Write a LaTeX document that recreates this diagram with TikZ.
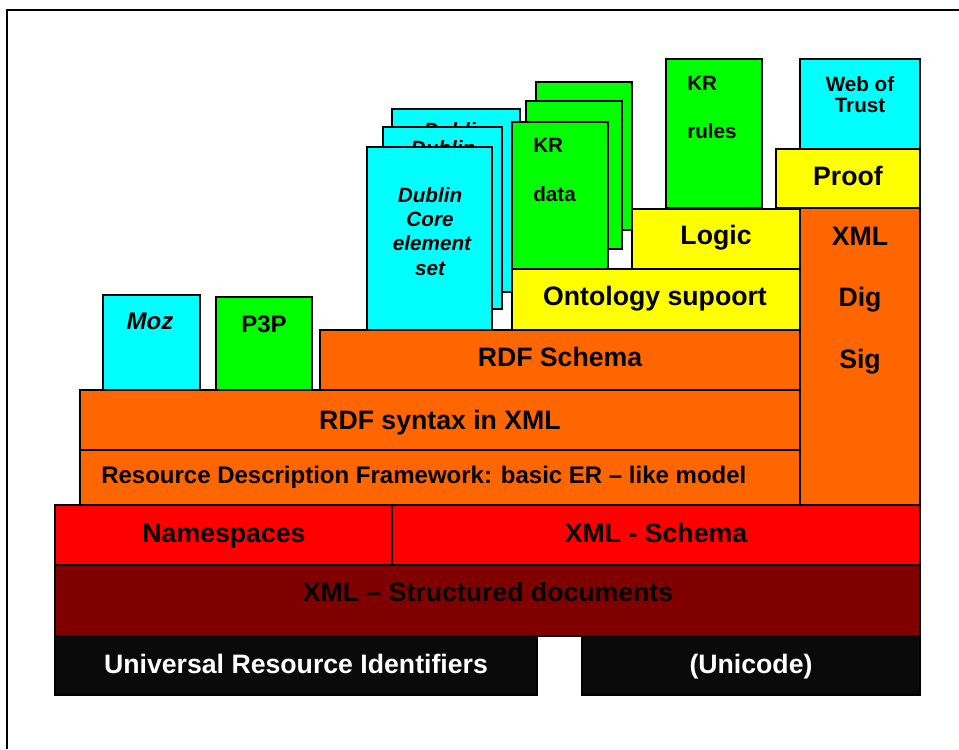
\documentclass[tikz,border=0pt]{standalone}
\usepackage{fontspec}
\setmainfont{Liberation Sans}
\usetikzlibrary{fit}

\definecolor{layerorange}{HTML}{FF6600}
\definecolor{layerred}{HTML}{FF0000}
\definecolor{layerdark}{HTML}{800000}
\definecolor{layerblack}{HTML}{0A0A0A}
\definecolor{layercyan}{HTML}{00FFFF}
\definecolor{layergreen}{HTML}{00FF00}
\definecolor{layeryellow}{HTML}{FFFF00}

\tikzset{
  blk/.style={draw=black, line width=1.3pt, inner sep=0pt, rectangle},
  lbl/.style={anchor=base, inner sep=0pt, font=\bfseries\fontsize{20}{24}\selectfont},
  midlbl/.style={lbl, font=\bfseries\fontsize{18}{22}\selectfont},
  smllbl/.style={lbl, font=\bfseries\fontsize{15.5}{18}\selectfont},
}

\begin{document}
\begin{tikzpicture}[x=0.75pt, y=-0.75pt]
\useasboundingbox (0,0) rectangle (959,749);

% outer frame (top and left edges)
\draw[line width=1.5pt] (7,749) -- (7,10) -- (959,10);

% ---- base layers ----
\node[blk, fill=layerblack, fit={(55,636)(537,695)}] (uri) {};
\node[blk, fill=layerblack, fit={(582,636)(920,695)}] (uni) {};
\node[lbl, text=white] (uriT) at (296,673) {Universal Resource Identifiers};
\node[lbl, text=white] (uniT) at (751,673) {(Unicode)};

\node[blk, fill=layerdark, fit={(55,565)(920,636)}] (xmlsd) {};
\node[lbl] (xmlsdT) at (488,601) {XML -- Structured documents};

\node[blk, fill=layerred, fit={(55,505)(392,565)}] (ns) {};
\node[blk, fill=layerred, fit={(392,505)(920,565)}] (xsch) {};
\node[lbl] (nsT) at (224,542) {Namespaces};
\node[lbl] (xschT) at (656,542) {XML - Schema};

% ---- RDF layers ----
\node[blk, fill=layerorange, fit={(80,450)(800,505)}] (rdfm) {};
\node[midlbl, anchor=base west] (rdfmT) at (101,483) {Resource Description Framework: basic ER -- like model};

\node[blk, fill=layerorange, fit={(80,390)(800,450)}] (rdfx) {};
\node[lbl] (rdfxT) at (440,429) {RDF syntax in XML};

\node[blk, fill=layerorange, fit={(320,330)(800,390)}] (rdfs) {};
\node[lbl] (rdfsT) at (560,366) {RDF Schema};

% ---- digital signature column ----
\node[blk, fill=layerorange, fit={(800,208)(920,505)}] (dsig) {};
\node[lbl] (dsig1) at (860,245) {XML};
\node[lbl] (dsig2) at (860,306) {Dig};
\node[lbl] (dsig3) at (860,368) {Sig};

% ---- small vocabularies ----
\node[blk, fill=layercyan, fit={(103,295)(200,390)}] (moz) {};
\node[midlbl] (mozT) at (150,329) {\itshape Moz};
\node[blk, fill=layergreen, fit={(216,297)(312,390)}] (p3p) {};
\node[midlbl] (p3pT) at (264,332) {P3P};

% ---- Dublin Core stack ----
\node[blk, fill=layercyan, fit={(392,109)(520,292)}] (dc3) {};
\node[smllbl] (dc3a) at (456,137) {\itshape Dublin};
\node[blk, fill=layercyan, fit={(383,127)(502,309)}] (dc2) {};
\node[smllbl] (dc2a) at (443,155) {\itshape Dublin};
\node[blk, fill=layercyan, fit={(367,147)(492,330)}] (dc1) {};
\node[smllbl] (dc1a) at (430,202) {\itshape Dublin};
\node[smllbl] (dc1b) at (430,226) {\itshape Core};
\node[smllbl] (dc1c) at (432,250) {\itshape element};
\node[smllbl] (dc1d) at (430,275) {\itshape set};

% ---- ontology / logic / proof / trust ----
\node[blk, fill=layeryellow, fit={(512,269)(800,330)}] (onto) {};
\node[lbl] (ontoT) at (655,305) {Ontology supoort};

\node[blk, fill=layergreen, fit={(536,82)(632,230)}] (kr3) {};
\node[blk, fill=layergreen, fit={(526,101)(622,249)}] (kr2) {};
\node[blk, fill=layergreen, fit={(512,122)(608,269)}] (kr1) {};
\node[smllbl, anchor=base west] (kr1a) at (533,152) {KR};
\node[smllbl, anchor=base west] (kr1b) at (533,201) {data};

\node[blk, fill=layeryellow, fit={(632,209)(800,269)}] (logic) {};
\node[lbl] (logicT) at (716,244) {Logic};

\node[blk, fill=layergreen, fit={(666,59)(762,208)}] (krr) {};
\node[smllbl, anchor=base west] (krra) at (687,90) {KR};
\node[smllbl, anchor=base west] (krrb) at (687,138) {rules};

\node[blk, fill=layeryellow, fit={(776,149)(920,208)}] (proof) {};
\node[lbl] (proofT) at (848,185) {Proof};

\node[blk, fill=layercyan, fit={(800,59)(920,149)}] (trust) {};
\node[smllbl] (trustA) at (860,91) {Web of};
\node[smllbl] (trustB) at (860,113) {Trust};
\end{tikzpicture}
\end{document}
